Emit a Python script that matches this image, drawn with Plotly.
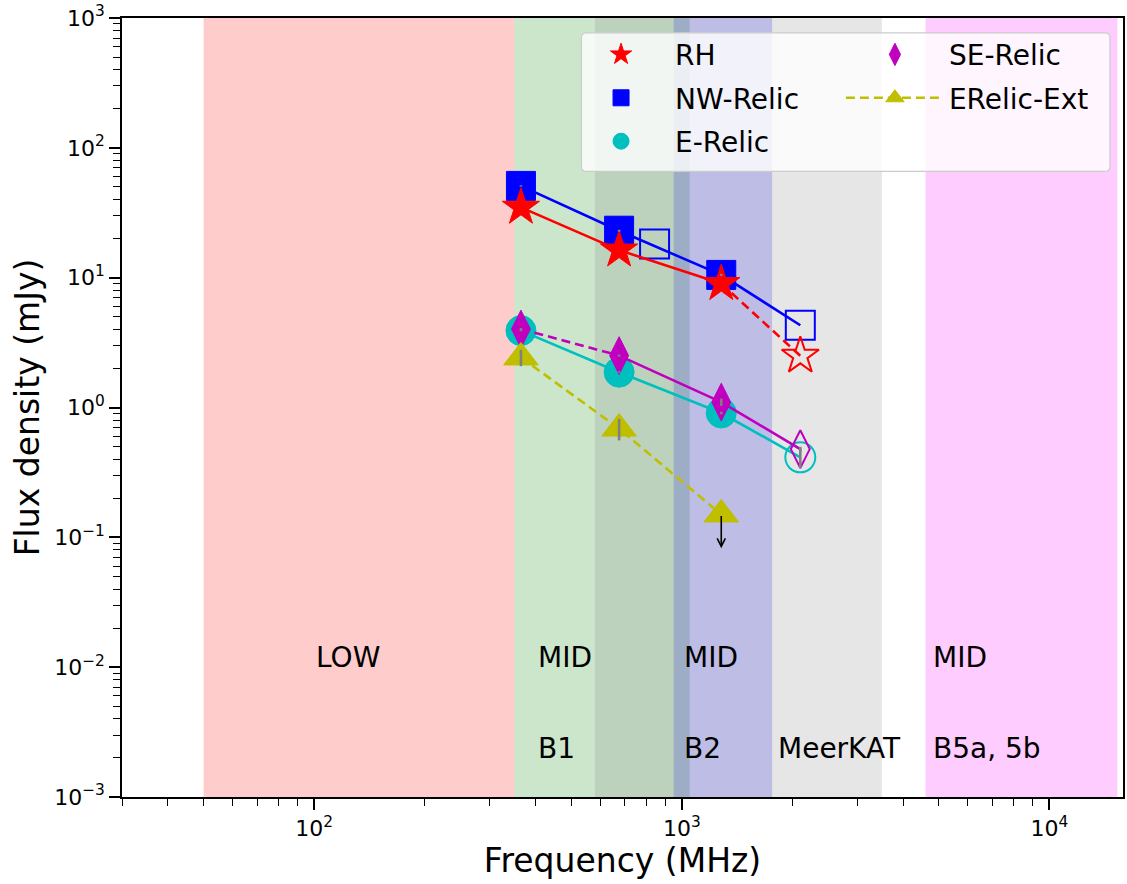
import numpy as np
import plotly.graph_objects as go

# ---------------- data ----------------
freq_main = [365, 675, 1280]          # MHz, filled points
freq_nw_extra = 843                   # MHz, open square (NW-Relic)
freq_high = 2100                      # MHz, open points

rh_flux = [34.8, 16.3, 9.0]
rh_flux_high = 2.5

nw_flux = [50.9, 23.0, 10.5]
nw_flux_extra = 18.2
nw_flux_high = 4.3
nw_err = [0.6, 0.4, 0.2]

e_flux = [3.91, 1.87, 0.907]
e_flux_high = 0.413
e_err = [0.05, 0.03, 0.02]
e_err_high = 0.07

se_flux = [4.02, 2.51, 1.10]
se_flux_high = 0.478
se_err = [0.07, 0.045, 0.07]
se_err_high = 0.02

ext_flux = [2.43, 0.688, 0.150]       # last value is an upper limit
ext_err = [0.35, 0.13, 0.0]

band_lo = [50, 350, 950, 580, 4600]
band_hi = [350, 1050, 1760, 3500, 15300]
band_colors = ["red", "green", "blue", "gray", "magenta"]

label_top = ["LOW", "MID", "MID", "MID"]
label_top_x = [100, 400, 1000, 4750]
label_bottom = ["B1", "B2", "MeerKAT", "B5a, 5b"]
label_bottom_x = [400, 1000, 1800, 4750]
label_top_y = 0.01
label_bottom_y = 0.002

xticks = [100, 1000, 10000]
xtick_text = ["10<sup>2</sup>", "10<sup>3</sup>", "10<sup>4</sup>"]
yticks = [1e-3, 1e-2, 1e-1, 1, 10, 100, 1000]
ytick_text = ["10<sup>−3</sup>", "10<sup>−2</sup>", "10<sup>−1</sup>", "10<sup>0</sup>",
              "10<sup>1</sup>", "10<sup>2</sup>", "10<sup>3</sup>"]

# ---------------- style ----------------
RED = "#ff0000"
BLUE = "#0000ff"
CYAN = "#00bfbf"
MAG = "#bf00bf"
YEL = "#bfbf00"
FONT = "DejaVu Sans"
LW = 2.6
DASH = "9px,5px"

fig = go.Figure()


def line(x, y, color, dash="solid"):
    fig.add_trace(go.Scatter(x=x, y=y, mode="lines", showlegend=False, hoverinfo="skip",
                             line=dict(color=color, width=LW, dash=dash)))


def pts(x, y, color, symbol, size, name=None, legend="legend", rank=None, open_=False):
    fig.add_trace(go.Scatter(
        x=x, y=y, mode="markers", name=name, showlegend=name is not None,
        legend=legend, legendrank=rank if rank else 1000, legendgroup=name,
        hoverinfo="skip",
        marker=dict(color=color, symbol=symbol + ("-open" if open_ else ""), size=size,
                    line=dict(color=color, width=2 if open_ else 1))))


def errs(x, y, e):
    fig.add_trace(go.Scatter(
        x=x, y=y, mode="markers", showlegend=False, hoverinfo="skip",
        marker=dict(size=1, color="rgba(0,0,0,0)"),
        error_y=dict(type="data", array=e, visible=True, color="gray", thickness=2.6, width=0)))


# NW-Relic
line(freq_main + [freq_high], nw_flux + [nw_flux_high], BLUE)
pts(freq_main, nw_flux, BLUE, "square", 29, "NW-Relic", rank=2)
pts([freq_nw_extra, freq_high], [nw_flux_extra, nw_flux_high], BLUE, "square", 29, open_=True)

# RH
line(freq_main, rh_flux, RED)
line([freq_main[-1], freq_high], [rh_flux[-1], rh_flux_high], RED, DASH)
pts(freq_main, rh_flux, RED, "star", 28, "RH", rank=1)
pts([freq_high], [rh_flux_high], RED, "star", 28, open_=True)

# E-Relic
line(freq_main + [freq_high], e_flux + [e_flux_high], CYAN)
pts(freq_main, e_flux, CYAN, "circle", 30, "E-Relic", rank=3)
pts([freq_high], [e_flux_high], CYAN, "circle", 30, open_=True)

# SE-Relic
line(freq_main[:2], se_flux[:2], MAG, DASH)
line(freq_main[1:] + [freq_high], se_flux[1:] + [se_flux_high], MAG)
pts(freq_main, se_flux, MAG, "diamond-tall", 27, "SE-Relic", legend="legend2", rank=1)
pts([freq_high], [se_flux_high], MAG, "diamond-tall", 27, open_=True)

# ERelic-Ext
fig.add_trace(go.Scatter(
    x=freq_main, y=ext_flux, mode="lines+markers", name="ERelic-Ext", legend="legend2",
    legendrank=2, legendgroup="ERelic-Ext", hoverinfo="skip",
    line=dict(color=YEL, width=LW, dash=DASH),
    marker=dict(color=YEL, symbol="triangle-up", size=30, line=dict(color=YEL, width=1))))

# error bars on top
errs(freq_main, nw_flux, nw_err)
errs(freq_main + [freq_high], e_flux + [e_flux_high], e_err + [e_err_high])
errs(freq_main + [freq_high], se_flux + [se_flux_high], se_err + [se_err_high])
errs(freq_main, ext_flux, ext_err)

# upper-limit arrow
ul_x = np.log10(freq_main[-1])
ul_y = np.log10(ext_flux[-1])
fig.add_annotation(x=ul_x, y=ul_y - 0.26, ax=ul_x, ay=ul_y, xref="x", yref="y",
                   axref="x", ayref="y", text="", showarrow=True, arrowhead=5,
                   arrowsize=1, arrowwidth=1.6, arrowcolor="black", standoff=0)

# bands
for lo, hi, c in zip(band_lo, band_hi, band_colors):
    fig.add_shape(type="rect", xref="x", yref="paper", x0=lo, x1=hi, y0=0, y1=1,
                  fillcolor=c, opacity=0.2, line_width=0, layer="below")

# band labels
for t, xv in zip(label_top, label_top_x):
    fig.add_annotation(x=np.log10(xv), y=np.log10(label_top_y), text=t, showarrow=False,
                       xanchor="left", yanchor="bottom", yshift=-9,
                       font=dict(family=FONT, size=28, color="black"))
for t, xv in zip(label_bottom, label_bottom_x):
    fig.add_annotation(x=np.log10(xv), y=np.log10(label_bottom_y), text=t, showarrow=False,
                       xanchor="left", yanchor="bottom", yshift=-9,
                       font=dict(family=FONT, size=28, color="black"))

# legend frame (rounded)
x0, x1, y0, y1 = 0.459, 0.987, 0.803, 0.981
rx, ry = 0.005, 0.0065
path = (f"M{x0+rx},{y0} L{x1-rx},{y0} Q{x1},{y0} {x1},{y0+ry} L{x1},{y1-ry} "
        f"Q{x1},{y1} {x1-rx},{y1} L{x0+rx},{y1} Q{x0},{y1} {x0},{y1-ry} "
        f"L{x0},{y0+ry} Q{x0},{y0} {x0+rx},{y0} Z")
fig.add_shape(type="path", path=path, xref="paper", yref="paper",
              fillcolor="rgba(255,255,255,0.8)", line=dict(color="rgb(204,204,204)", width=1.2),
              layer="above")

axis_common = dict(type="log", showline=True, linecolor="black", linewidth=1.5, mirror=True,
                   ticks="outside", ticklen=11, tickwidth=1.5, tickcolor="black",
                   showgrid=False, zeroline=False, ticklabeloverflow="allow",
                   tickfont=dict(family=FONT, size=22, color="black"),
                   minor=dict(ticks="outside", ticklen=7, tickwidth=1.2, tickcolor="black",
                              dtick="D1", showgrid=False))

legend_common = dict(xanchor="left", yanchor="top", bgcolor="rgba(0,0,0,0)", borderwidth=0,
                     font=dict(family=FONT, size=28, color="black"),
                     tracegroupgap=4, itemsizing="trace", itemwidth=98)

fig.update_layout(
    width=1127, height=884, margin=dict(l=122, r=2, t=14, b=87),
    plot_bgcolor="white", paper_bgcolor="white",
    font=dict(family=FONT, color="black"),
    xaxis=dict(axis_common, range=[np.log10(30), 4.2], tickvals=xticks, ticktext=xtick_text,
               title=dict(text="Frequency (MHz)", font=dict(size=33), standoff=8)),
    yaxis=dict(axis_common, range=[-3, 3], tickvals=yticks, ticktext=ytick_text,
               title=dict(text="Flux density (mJy)", font=dict(size=33), standoff=5)),
    legend=dict(legend_common, x=0.4446, y=0.985),
    legend2=dict(legend_common, x=0.7182, y=0.985),
)

fig.write_html("out.html")
